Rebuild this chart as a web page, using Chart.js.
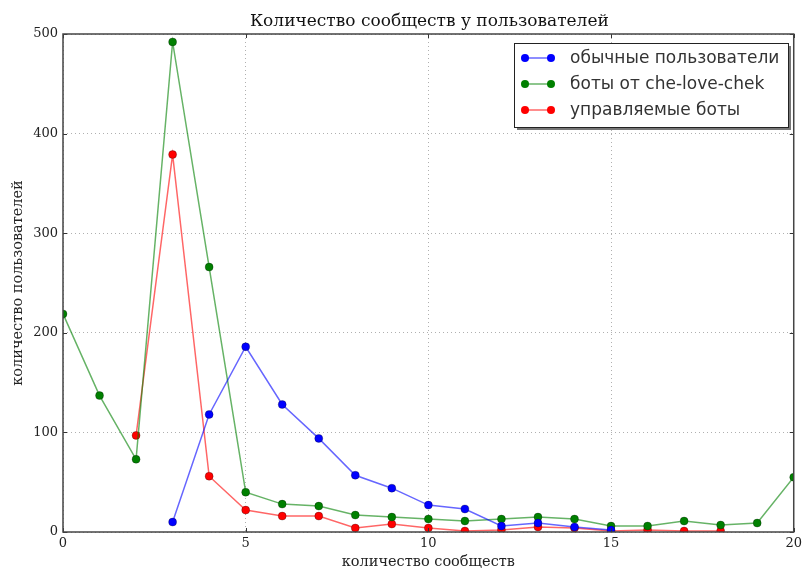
<!DOCTYPE html>
<html>
<head>
<meta charset="utf-8">
<script src="https://cdn.jsdelivr.net/npm/chart.js@4/dist/chart.umd.min.js"></script>
<style>
  html, body { margin: 0; padding: 0; background: #fff; }
  #wrap { width: 806px; height: 571px; }
</style>
</head>
<body>
<div id="wrap"><canvas id="chart" width="806" height="571"></canvas></div>
<script>
"use strict";

/** DATA */
const MESSAGES = [0, 1, 2, 3, 4, 5, 6, 7, 8, 9, 10, 11, 12, 13, 14, 15, 16, 17, 18, 19, 20];
const REGULAR_USERS = [null, null, null, 10, 118, 186, 128, 94, 57, 44, 27, 23, 6, 9, 5, 2, null, null, null, null, null];
const CHE_LOVE_CHEK_BOTS = [219, 137, 73, 492, 266, 40, 28, 26, 17, 15, 13, 11, 13, 15, 13, 6, 6, 11, 7, 9, 55];
const MANAGED_BOTS = [null, null, 97, 379, 56, 22, 16, 16, 4, 8, 4, 1, 2, 5, 4, 1, 2, 1, 1, null, null];
const X_TICKS = [0, 5, 10, 15, 20];
const Y_TICKS = [0, 100, 200, 300, 400, 500];

const SERIF = "'DejaVu Serif', serif";
const SANS = "'DejaVu Sans', sans-serif";

const toPoints = values => MESSAGES.map((x, i) => ({ x: x, y: values[i] }));

const makeDataset = (label, values, color, lineColor) => ({
    label: label,
    data: toPoints(values),
    borderColor: lineColor,
    backgroundColor: color,
    pointBackgroundColor: color,
    pointBorderColor: 'rgba(0,0,0,0.45)',
    pointBorderWidth: 0.6,
    pointRadius: 4,
    borderWidth: 1.5,
    tension: 0,
    spanGaps: false,
    clip: 0
});

// Frame, inward ticks, title and legend drawn over the chart
const decorPlugin = {
    id: 'decor',
    afterDatasetsDraw(chart) {
        const ctx = chart.ctx;
        const a = chart.chartArea;
        const xs = chart.scales.x;
        const ys = chart.scales.y;
        ctx.save();

        // Inward ticks on all four sides
        ctx.strokeStyle = '#333';
        ctx.lineWidth = 1;
        ctx.beginPath();
        X_TICKS.forEach(v => {
            const px = Math.round(xs.getPixelForValue(v)) + 0.5;
            ctx.moveTo(px, a.bottom); ctx.lineTo(px, a.bottom - 4);
            ctx.moveTo(px, a.top); ctx.lineTo(px, a.top + 4);
        });
        Y_TICKS.forEach(v => {
            const py = Math.round(ys.getPixelForValue(v)) + 0.5;
            ctx.moveTo(a.left, py); ctx.lineTo(a.left + 4, py);
            ctx.moveTo(a.right, py); ctx.lineTo(a.right - 4, py);
        });
        ctx.stroke();

        // Frame
        ctx.strokeStyle = '#444';
        ctx.lineWidth = 1.5;
        ctx.strokeRect(a.left, a.top, a.right - a.left, a.bottom - a.top);

        // Title
        ctx.fillStyle = '#111';
        ctx.font = `17px ${ SERIF }`;
        ctx.textAlign = 'center';
        ctx.textBaseline = 'alphabetic';
        ctx.fillText('Количество сообществ у пользователей', (a.left + a.right) / 2 + 1, 26);

        // Legend
        const box = { x: 514, y: 43, w: 274, h: 84 };
        ctx.fillStyle = '#777';
        ctx.fillRect(box.x + 3, box.y + 3, box.w, box.h);
        ctx.fillStyle = '#fff';
        ctx.fillRect(box.x, box.y, box.w, box.h);
        ctx.strokeStyle = '#222';
        ctx.lineWidth = 1;
        ctx.strokeRect(box.x + 0.5, box.y + 0.5, box.w, box.h);

        ctx.font = `17px ${ SANS }`;
        ctx.textAlign = 'left';
        ctx.textBaseline = 'middle';
        chart.data.datasets.forEach((ds, i) => {
            const y = 58 + i * 26;
            ctx.strokeStyle = ds.borderColor;
            ctx.lineWidth = 1.5;
            ctx.beginPath();
            ctx.moveTo(525, y); ctx.lineTo(551, y);
            ctx.stroke();
            [525, 551].forEach(px => {
                ctx.beginPath();
                ctx.arc(px, y, 4, 0, Math.PI * 2);
                ctx.fillStyle = ds.pointBackgroundColor;
                ctx.fill();
            });
            ctx.fillStyle = '#333';
            ctx.fillText(ds.label, 570, y + 1);
        });

        ctx.restore();
    }
};

/** INITIALIZE CHART */
const messagesChart = new Chart(document.getElementById('chart').getContext('2d'), {
    type: 'line',
    data: {
        datasets: [
            makeDataset('обычные пользователи', REGULAR_USERS, '#0000ff', 'rgba(0,0,255,0.6)'),
            makeDataset('боты от che-love-chek', CHE_LOVE_CHEK_BOTS, '#008000', 'rgba(0,128,0,0.6)'),
            makeDataset('управляемые боты', MANAGED_BOTS, '#ff0000', 'rgba(255,0,0,0.6)')
        ]
    },
    options: {
        responsive: false,
        animation: false,
        layout: {
            padding: { top: 34, right: 10, left: 0, bottom: 0 }
        },
        plugins: {
            legend: { display: false },
            title: { display: false },
            tooltip: { enabled: false }
        },
        scales: {
            x: {
                type: 'linear',
                min: 0,
                max: 20,
                afterBuildTicks: scale => { scale.ticks = X_TICKS.map(v => ({ value: v })); },
                afterFit: scale => { scale.height = 39; },
                ticks: {
                    color: '#222',
                    padding: 4,
                    font: { family: SERIF, size: 13 },
                    maxRotation: 0
                },
                grid: {
                    color: '#b0b0b0',
                    lineWidth: 1,
                    drawTicks: false
                },
                border: { display: false, dash: [1, 3] },
                title: {
                    display: true,
                    text: 'количество сообществ',
                    color: '#222',
                    font: { family: SERIF, size: 14.5 },
                    padding: { top: 6, bottom: 0 }
                }
            },
            y: {
                min: 0,
                max: 500,
                afterBuildTicks: scale => { scale.ticks = Y_TICKS.map(v => ({ value: v })); },
                afterFit: scale => { scale.width = 63; },
                ticks: {
                    color: '#222',
                    padding: 5,
                    font: { family: SERIF, size: 13 }
                },
                grid: {
                    color: '#b0b0b0',
                    lineWidth: 1,
                    drawTicks: false
                },
                border: { display: false, dash: [1, 3] },
                title: {
                    display: true,
                    text: 'количество пользователей',
                    color: '#222',
                    font: { family: SERIF, size: 14.5 },
                    padding: { top: 10, bottom: 4 }
                }
            }
        }
    },
    plugins: [decorPlugin]
});
</script>
</body>
</html>
